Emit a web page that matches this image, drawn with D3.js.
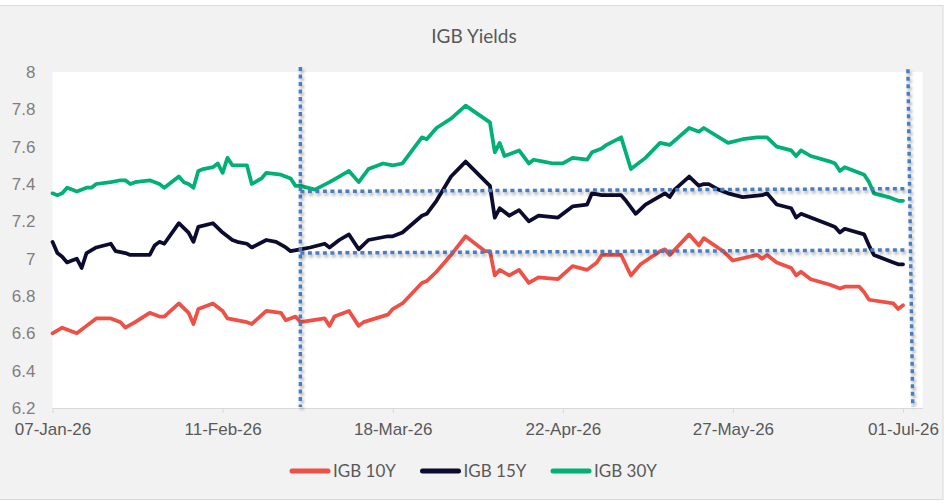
<!DOCTYPE html>
<html>
<head>
<meta charset="utf-8">
<script src="https://cdn.jsdelivr.net/npm/d3@7"></script>
<style>
  body { margin: 0; background: #fff; }
  svg { display: block; font-family: Lato, "Open Sans", sans-serif; }
</style>
</head>
<body>
<svg width="948" height="504"></svg>
<script>
// yields, [day-month, value]
const igb10 = [
  ["07-Jan",6.60],["09-Jan",6.63],["12-Jan",6.60],["14-Jan",6.64],["16-Jan",6.68],["19-Jan",6.68],
  ["21-Jan",6.66],["22-Jan",6.63],["24-Jan",6.66],["27-Jan",6.71],["29-Jan",6.69],["30-Jan",6.69],
  ["02-Feb",6.76],["04-Feb",6.71],["05-Feb",6.65],["06-Feb",6.73],["09-Feb",6.76],["11-Feb",6.72],
  ["12-Feb",6.68],["16-Feb",6.66],["17-Feb",6.65],["20-Feb",6.72],["23-Feb",6.71],["24-Feb",6.67],
  ["26-Feb",6.69],["27-Feb",6.66],["04-Mar",6.68],["05-Mar",6.64],["06-Mar",6.69],["09-Mar",6.72],
  ["11-Mar",6.64],["12-Mar",6.66],["17-Mar",6.70],["18-Mar",6.73],["20-Mar",6.76],["24-Mar",6.87],
  ["25-Mar",6.88],["27-Mar",6.93],["30-Mar",7.02],["02-Apr",7.12],["06-Apr",7.04],["07-Apr",7.04],
  ["08-Apr",6.91],["09-Apr",6.94],["11-Apr",6.91],["13-Apr",6.94],["15-Apr",6.87],["17-Apr",6.90],
  ["21-Apr",6.89],["24-Apr",6.96],["27-Apr",6.94],["29-Apr",6.98],["30-Apr",7.02],["04-May",7.02],
  ["06-May",6.91],["08-May",6.97],["12-May",7.04],["13-May",7.05],["14-May",7.02],["18-May",7.13],
  ["20-May",7.07],["21-May",7.11],["25-May",7.04],["27-May",6.99],["01-Jun",7.02],["02-Jun",7.00],
  ["03-Jun",7.02],["05-Jun",6.98],["08-Jun",6.95],["09-Jun",6.91],["10-Jun",6.93],["12-Jun",6.89],
  ["16-Jun",6.86],["18-Jun",6.84],["19-Jun",6.85],["22-Jun",6.85],["23-Jun",6.82],["24-Jun",6.78],
  ["29-Jun",6.76],["30-Jun",6.73],["01-Jul",6.75]
];

const igb15 = [
  ["07-Jan",7.09],["08-Jan",7.03],["09-Jan",7.01],["10-Jan",6.98],["11-Jan",6.99],["12-Jan",7.00],
  ["13-Jan",6.95],["14-Jan",7.03],["16-Jan",7.06],["19-Jan",7.08],["20-Jan",7.04],["22-Jan",7.03],
  ["23-Jan",7.02],["27-Jan",7.02],["28-Jan",7.07],["29-Jan",7.09],["30-Jan",7.08],["02-Feb",7.19],
  ["04-Feb",7.14],["05-Feb",7.09],["06-Feb",7.17],["09-Feb",7.19],["11-Feb",7.14],["13-Feb",7.10],
  ["14-Feb",7.09],["16-Feb",7.08],["17-Feb",7.06],["20-Feb",7.10],["22-Feb",7.09],["24-Feb",7.06],
  ["25-Feb",7.04],["27-Feb",7.05],["01-Mar",7.06],["04-Mar",7.08],["05-Mar",7.06],["07-Mar",7.10],
  ["09-Mar",7.13],["11-Mar",7.05],["13-Mar",7.10],["17-Mar",7.12],["18-Mar",7.12],["20-Mar",7.14],
  ["24-Mar",7.23],["25-Mar",7.24],["27-Mar",7.31],["30-Mar",7.44],["02-Apr",7.52],["07-Apr",7.39],
  ["08-Apr",7.22],["09-Apr",7.27],["11-Apr",7.23],["13-Apr",7.26],["15-Apr",7.20],["17-Apr",7.23],
  ["21-Apr",7.22],["24-Apr",7.28],["27-Apr",7.29],["28-Apr",7.35],["30-Apr",7.34],["04-May",7.34],
  ["05-May",7.31],["07-May",7.24],["09-May",7.29],["13-May",7.35],["14-May",7.33],["15-May",7.37],
  ["18-May",7.44],["20-May",7.39],["21-May",7.40],["22-May",7.40],["24-May",7.37],["26-May",7.35],
  ["29-May",7.33],["02-Jun",7.34],["03-Jun",7.35],["05-Jun",7.29],["08-Jun",7.27],["09-Jun",7.22],
  ["10-Jun",7.24],["16-Jun",7.18],["17-Jun",7.17],["18-Jun",7.14],["19-Jun",7.16],["23-Jun",7.13],
  ["24-Jun",7.07],["25-Jun",7.02],["29-Jun",6.98],["30-Jun",6.97],["01-Jul",6.97]
];

const igb30 = [
  ["07-Jan",7.35],["08-Jan",7.34],["09-Jan",7.35],["10-Jan",7.38],["11-Jan",7.37],["12-Jan",7.36],
  ["14-Jan",7.38],["15-Jan",7.38],["16-Jan",7.40],["19-Jan",7.41],["21-Jan",7.42],["22-Jan",7.42],
  ["23-Jan",7.40],["24-Jan",7.41],["27-Jan",7.42],["29-Jan",7.40],["30-Jan",7.38],["02-Feb",7.44],
  ["03-Feb",7.41],["04-Feb",7.40],["05-Feb",7.38],["06-Feb",7.47],["07-Feb",7.48],["09-Feb",7.49],
  ["10-Feb",7.51],["11-Feb",7.46],["12-Feb",7.54],["13-Feb",7.50],["16-Feb",7.50],["17-Feb",7.40],
  ["19-Feb",7.43],["20-Feb",7.46],["23-Feb",7.45],["25-Feb",7.43],["26-Feb",7.39],["27-Feb",7.39],
  ["02-Mar",7.37],["05-Mar",7.41],["07-Mar",7.44],["09-Mar",7.47],["11-Mar",7.41],["13-Mar",7.48],
  ["16-Mar",7.51],["18-Mar",7.50],["20-Mar",7.51],["24-Mar",7.65],["25-Mar",7.64],["27-Mar",7.70],
  ["30-Mar",7.75],["02-Apr",7.82],["07-Apr",7.73],["08-Apr",7.57],["09-Apr",7.62],["10-Apr",7.55],
  ["13-Apr",7.58],["15-Apr",7.51],["16-Apr",7.53],["18-Apr",7.52],["20-Apr",7.51],["22-Apr",7.51],
  ["24-Apr",7.54],["27-Apr",7.53],["28-Apr",7.57],["30-Apr",7.59],["01-May",7.61],["04-May",7.65],
  ["06-May",7.48],["09-May",7.54],["12-May",7.62],["14-May",7.61],["18-May",7.70],["20-May",7.68],
  ["21-May",7.70],["26-May",7.62],["29-May",7.64],["01-Jun",7.65],["03-Jun",7.65],["05-Jun",7.60],
  ["08-Jun",7.58],["09-Jun",7.55],["10-Jun",7.58],["12-Jun",7.55],["16-Jun",7.52],["17-Jun",7.51],
  ["18-Jun",7.47],["19-Jun",7.49],["23-Jun",7.45],["24-Jun",7.41],["25-Jun",7.35],["28-Jun",7.33],
  ["30-Jun",7.31],["01-Jul",7.31]
];

const seriesNames = ["IGB 10Y", "IGB 15Y", "IGB 30Y"];
const seriesColors = ["#ef5046", "#0c0b30", "#00b074"];

const xTickLabels = ["07-Jan", "11-Feb", "18-Mar", "22-Apr", "27-May", "01-Jul"];
const yTickValues = [6.2, 6.4, 6.6, 6.8, 7, 7.2, 7.4, 7.6, 7.8, 8];

// dotted annotation lines drawn on the chart, [from, to] as [day-month, value]
const markerLines = [
  [["27-Feb", 8.027], ["27-Feb", 6.205]],
  [["02-Jul", 8.015], ["03-Jul", 6.205]],
  [["27-Feb", 7.36], ["02-Jul", 7.375]],
  [["27-Feb", 7.03], ["02-Jul", 7.047]]
];

const parseDay = d3.timeParse("%d-%b-%y");
const toDate = s => parseDay(s + "-26");
const fmt = d3.timeFormat("%d-%b-%y");

const svg = d3.select("svg");
const W = 948, H = 504;

// chart box
svg.append("rect")
  .attr("x", -1).attr("y", 5.5)
  .attr("width", 944).attr("height", 494)
  .attr("fill", "#f2f2f2")
  .attr("stroke", "#d9d9d9");

const plot = { left: 52.5, right: 922.5, top: 72, bottom: 408 };

svg.append("rect")
  .attr("x", plot.left).attr("y", plot.top)
  .attr("width", plot.right - plot.left).attr("height", plot.bottom - plot.top)
  .attr("fill", "#fff");

svg.append("text")
  .attr("x", 474).attr("y", 43)
  .attr("text-anchor", "middle")
  .attr("fill", "#595959")
  .style("font-size", "19px")
  .text("IGB Yields");

const xScale = d3.scaleTime()
  .domain([toDate("07-Jan"), toDate("05-Jul")])
  .range([plot.left, plot.right]);

const yScale = d3.scaleLinear()
  .domain([6.2, 8])
  .range([plot.bottom, plot.top]);

// x axis
const xAxis = svg.append("g")
  .attr("transform", `translate(0, ${plot.bottom})`)
  .call(d3.axisBottom(xScale)
    .tickValues(xTickLabels.map(toDate))
    .tickFormat(fmt)
    .tickSize(5)
    .tickSizeOuter(0)
    .tickPadding(10));
xAxis.select(".domain").attr("stroke", "#d9d9d9");
xAxis.selectAll(".tick line").attr("stroke", "#d9d9d9");
xAxis.selectAll(".tick text")
  .attr("fill", "#595959")
  .style("font-size", "17px");

// y axis, labels only
const yAxis = svg.append("g")
  .attr("transform", `translate(${plot.left}, 0)`)
  .call(d3.axisLeft(yScale)
    .tickValues(yTickValues)
    .tickFormat(d3.format("~g"))
    .tickSize(0)
    .tickPadding(17));
yAxis.select(".domain").remove();
yAxis.selectAll(".tick text")
  .attr("fill", "#7f7f7f")
  .style("font-size", "17px");

// lines
const line = d3.line()
  .x(d => xScale(toDate(d[0])))
  .y(d => yScale(d[1]));

[igb10, igb15, igb30].forEach((s, i) => {
  svg.append("path")
    .datum(s)
    .attr("fill", "none")
    .attr("stroke", seriesColors[i])
    .attr("stroke-width", 3.75)
    .attr("stroke-linejoin", "round")
    .attr("stroke-linecap", "round")
    .attr("d", line);
});

// shadow for the dotted markers (user space, a straight vertical line has no bbox width)
const defs = svg.append("defs");
defs.append("filter")
  .attr("id", "shadow")
  .attr("filterUnits", "userSpaceOnUse")
  .attr("x", 0).attr("y", 0)
  .attr("width", W).attr("height", H)
  .append("feDropShadow")
  .attr("dx", 1.5).attr("dy", 2.5)
  .attr("stdDeviation", 1.5)
  .attr("flood-color", "#000")
  .attr("flood-opacity", 0.35);

svg.append("g")
  .selectAll("line")
  .data(markerLines)
  .join("line")
  .attr("x1", d => xScale(toDate(d[0][0])))
  .attr("y1", d => yScale(d[0][1]))
  .attr("x2", d => xScale(toDate(d[1][0])))
  .attr("y2", d => yScale(d[1][1]))
  .attr("stroke", "#4a7dbf")
  .attr("stroke-width", 3.5)
  .attr("stroke-dasharray", "4 3.5")
  .attr("filter", "url(#shadow)");

// legend
const legend = svg.append("g").attr("transform", "translate(290, 471)");
seriesNames.forEach((name, i) => {
  const g = legend.append("g").attr("transform", `translate(${i * 130.5}, 0)`);
  g.append("line")
    .attr("x1", 2).attr("x2", 38)
    .attr("stroke", seriesColors[i])
    .attr("stroke-width", 5)
    .attr("stroke-linecap", "round");
  g.append("text")
    .attr("x", 43).attr("dy", "0.35em")
    .attr("fill", "#595959")
    .style("font-size", "17px")
    .text(name);
});
</script>
</body>
</html>
